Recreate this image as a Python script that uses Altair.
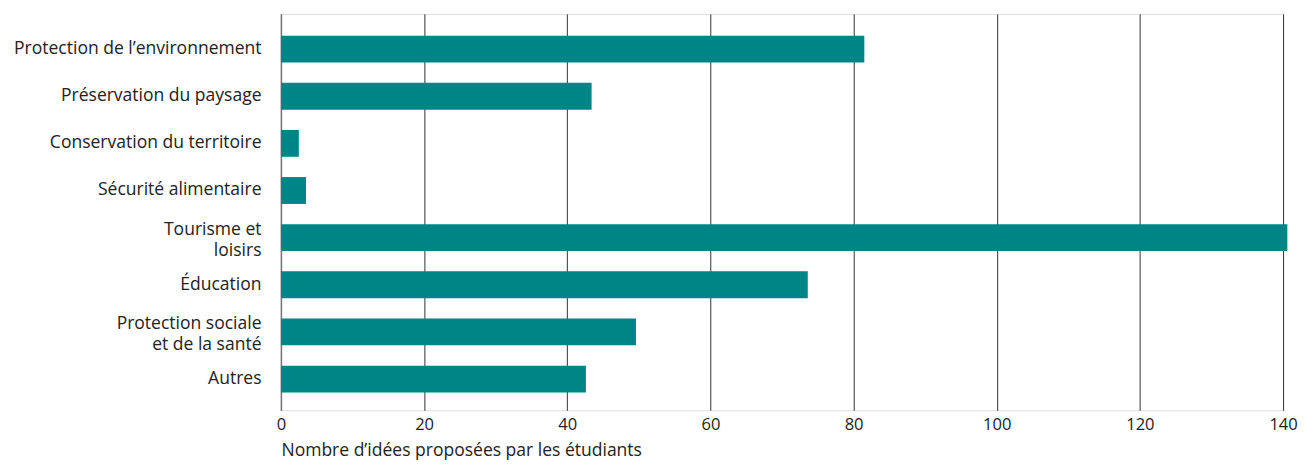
import altair as alt
import pandas as pd

categories = [
    "Protection de l\u2019environnement",
    "Pr\u00e9servation du paysage",
    "Conservation du territoire",
    "S\u00e9curit\u00e9 alimentaire",
    "Tourisme et |loisirs",
    "\u00c9ducation",
    "Protection sociale |et de la sant\u00e9",
    "Autres",
]
values = [81.5, 43.4, 2.5, 3.5, 140.6, 73.6, 49.6, 42.6]
x_ticks = [0, 20, 40, 60, 80, 100, 120, 140]

df = pd.DataFrame({"cat": categories, "val": values})

FONT = "Open Sans"
TEXT = "#222222"

chart = (
    alt.Chart(df)
    .mark_bar(color="#008587")
    .encode(
        y=alt.Y(
            "cat:N",
            sort=categories,
            title=None,
            scale=alt.Scale(paddingInner=0.43, paddingOuter=0.42, align=0.55),
            axis=alt.Axis(
                labelExpr="split(datum.label, '|')",
                labelFontSize=17.6,
                labelFont=FONT,
                labelColor=TEXT,
                labelPadding=20,
                labelLineHeight=21,
                labelOffset={
                    "condition": {"test": "indexof(datum.label, '|') >= 0", "value": -8},
                    "value": 0,
                },
                ticks=False,
                domainColor="#777777",
                domainWidth=1.5,
                grid=False,
                labelLimit=400,
            ),
        ),
        x=alt.X(
            "val:Q",
            scale=alt.Scale(domain=[0, 140], nice=False, zero=True),
            axis=alt.Axis(
                values=x_ticks,
                title="Nombre d\u2019id\u00e9es propos\u00e9es par les \u00e9tudiants",
                titleFont=FONT,
                titleFontSize=17.6,
                titleFontWeight="normal",
                titleColor=TEXT,
                titleAnchor="start",
                titleAlign="left",
                titlePadding=9,
                labelFont=FONT,
                labelFontSize=16.6,
                labelColor=TEXT,
                labelPadding=6,
                ticks=False,
                domain=False,
                grid=True,
                gridColor="#333333",
                gridWidth=1,
                labelFlush=False,
            ),
        ),
    )
    .properties(
        width=1006,
        height=398,
        autosize=alt.AutoSizeParams(type="none"),
        padding={"left": 274, "top": 5, "right": 15, "bottom": 52},
    )
    .configure_view(stroke=None)
    .configure(background="white")
)

chart.save("out.html", embed_options={"renderer": "svg", "actions": False})
